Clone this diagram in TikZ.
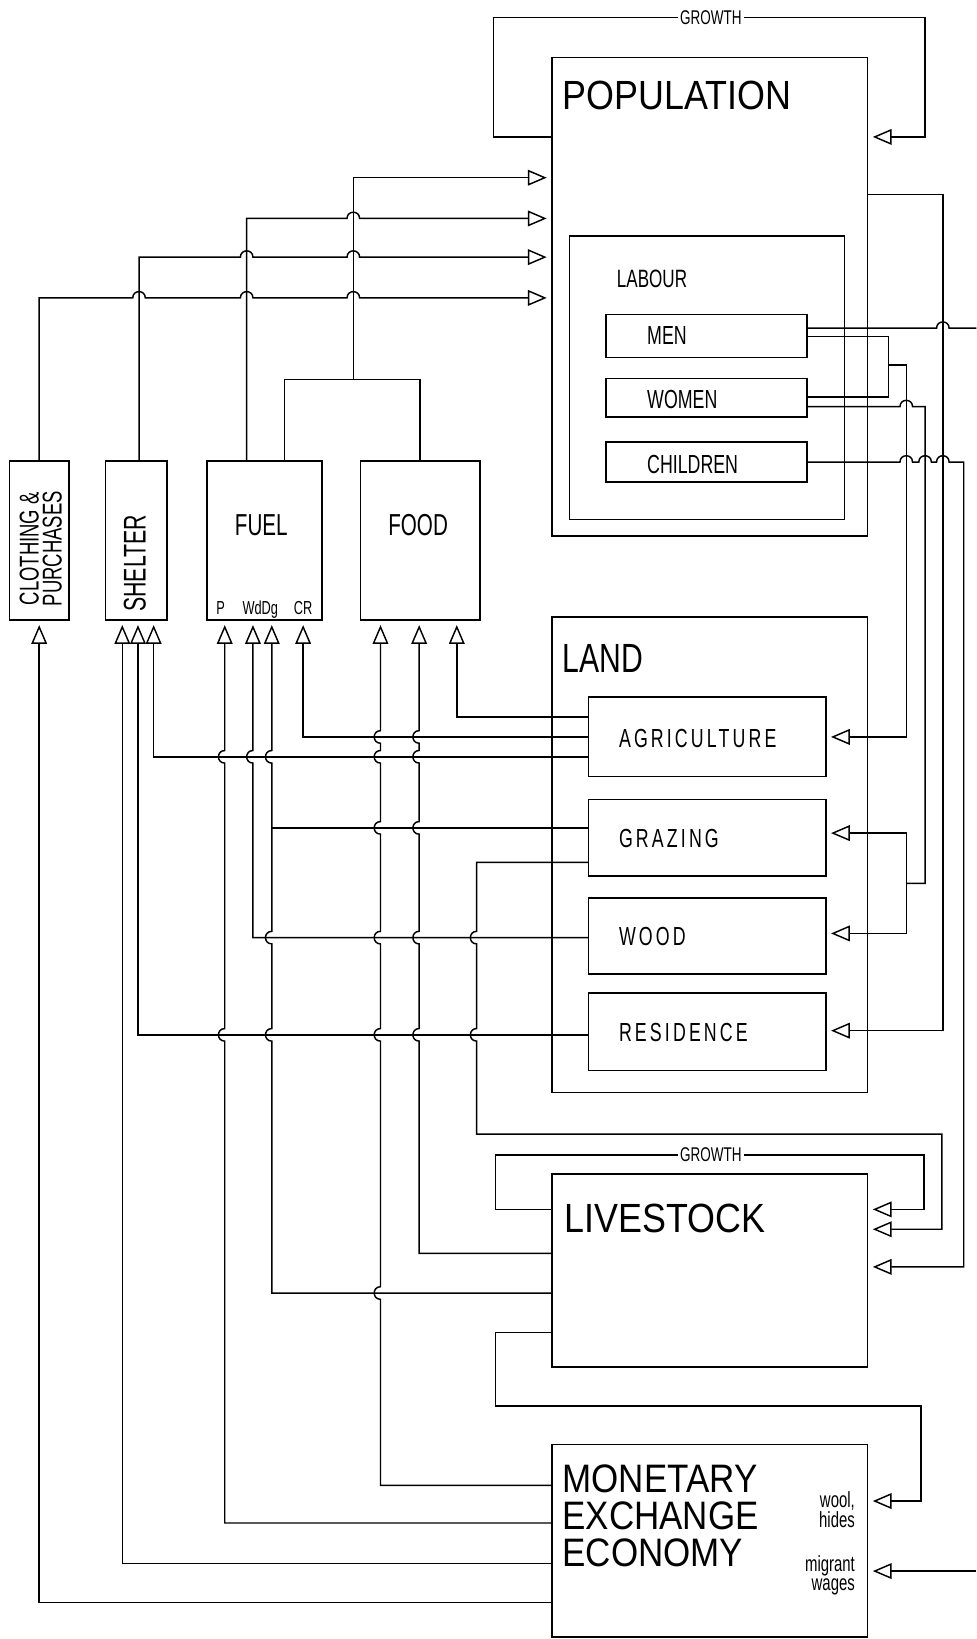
\documentclass[tikz,border=0pt]{standalone}
\usepackage{fontspec}
\setmainfont{Liberation Sans}
\newfontfamily\titlef[FakeStretch=0.88]{Liberation Sans}
\newfontfamily\titlen[FakeStretch=0.74]{Liberation Sans}
\newfontfamily\condf[FakeStretch=0.68]{Liberation Sans}
\newfontfamily\condw[FakeStretch=0.68, LetterSpace=12]{Liberation Sans}
\usetikzlibrary{arrows.meta}
% hop of a rightward horizontal line over a vertical at x=#1 (line at y=#2)
\newcommand\hopR[2]{-- (#1-6,#2) .. controls (#1-6,#2-8) and (#1+6,#2-8) .. (#1+6,#2)}
% hop of an upward vertical line (x=#1) round a horizontal at y=#2
\newcommand\hopU[2]{-- (#1,#2+6) .. controls (#1-8,#2+6) and (#1-8,#2-6) .. (#1,#2-6)}
% hop of a downward vertical line (x=#1) round a horizontal at y=#2
\newcommand\hopD[2]{-- (#1,#2-6) .. controls (#1-8,#2-6) and (#1-8,#2+6) .. (#1,#2+6)}
\tikzset{
  box/.style={draw, line width=1.5pt, inner sep=0pt, outer sep=0pt, anchor=north west},
  conn/.style={line width=1.4pt},
  arr/.style={conn, -{Triangle[open, length=18pt, width=15pt]}, shorten >=5pt},
  title/.style={font=\titlef\fontsize{39}{42}\selectfont, inner sep=0pt, anchor=base west},
  mtitle/.style={font=\titlef\fontsize{38}{38}\selectfont, inner sep=0pt, anchor=base west},
  lab/.style={font=\condf\fontsize{25}{28}\selectfont, inner sep=0pt, anchor=base west},
  wlab/.style={font=\condw\fontsize{25}{28}\selectfont, inner sep=0pt, anchor=base west},
  clab/.style={font=\condf\fontsize{29}{30}\selectfont, inner sep=0pt, anchor=base},
  small/.style={font=\condf\fontsize{18}{20}\selectfont, inner sep=0pt, anchor=base},
  growth/.style={font=\condf\fontsize{19}{20}\selectfont, fill=white, inner sep=2pt},
  note/.style={font=\condf\fontsize{21}{19}\selectfont, inner sep=0pt, align=right, anchor=east},
}
\begin{document}
\begin{tikzpicture}[x=1pt, y=-1pt]
\useasboundingbox (0,0) rectangle (934,1568);

% ---------- boxes ----------
\node[box, minimum width=302pt, minimum height=458pt] (pop) at (528,55) {};
\node[box, minimum width=263pt, minimum height=271pt] (labour) at (545,226) {};
\node[box, minimum width=192pt, minimum height=41pt] (men) at (580,301) {};
\node[box, minimum width=192pt, minimum height=37pt] (women) at (580,362) {};
\node[box, minimum width=192pt, minimum height=38pt] (children) at (580,423) {};

\node[box, minimum width=57pt, minimum height=152pt] (clothing) at (9,441) {};
\node[box, minimum width=59pt, minimum height=152pt] (shelter) at (101,441) {};
\node[box, minimum width=110pt, minimum height=152pt] (fuel) at (198,441) {};
\node[box, minimum width=114pt, minimum height=152pt] (food) at (345,441) {};

\node[box, minimum width=302pt, minimum height=455pt] (land) at (528,590) {};
\node[box, minimum width=227pt, minimum height=76pt] (agri) at (563,667) {};
\node[box, minimum width=227pt, minimum height=73pt] (grazing) at (563,765) {};
\node[box, minimum width=227pt, minimum height=73pt] (wood) at (563,859) {};
\node[box, minimum width=227pt, minimum height=74pt] (res) at (563,950) {};

\node[box, minimum width=302pt, minimum height=185pt] (livestock) at (528,1123) {};
\node[box, minimum width=302pt, minimum height=184pt] (money) at (528,1382) {};

% ---------- texts ----------
\node[title] (tpop) at (538,105) {POPULATION};
\node[lab, font=\condf\fontsize{24}{26}\selectfont] (tlab) at (590,275) {LABOUR};
\node[lab] (tmen) at (619,330) {MEN};
\node[lab] (twomen) at (619,391) {WOMEN};
\node[lab] (tchild) at (619,453) {CHILDREN};
\node[title, font=\titlen\fontsize{39}{42}\selectfont] (tland) at (538,643) {LAND};
\node[wlab] (tagri) at (592,715) {AGRICULTURE};
\node[wlab] (tgraz) at (592,811) {GRAZING};
\node[wlab] (twood) at (592,905) {WOOD};
\node[wlab] (tres) at (592,996) {RESIDENCE};
\node[title] (tlive) at (540,1179) {LIVESTOCK};
\node[mtitle] (tmon1) at (538,1428) {MONETARY};
\node[mtitle] (tmon2) at (538,1463) {EXCHANGE};
\node[mtitle] (tmon3) at (538,1499) {ECONOMY};
\node[note] (twool) at (818,1444) {wool,\\hides};
\node[note] (tmig) at (818,1507) {migrant\\wages};

\node[clab] (tfuel) at (250,512) {FUEL};
\node[clab] (tfood) at (400,512) {FOOD};
\node[rotate=90, font=\condf\fontsize{30}{30}\selectfont, inner sep=0pt] (tshel) at (129,539) {SHELTER};
\node[rotate=90, font=\condf\fontsize{26}{22}\selectfont, inner sep=0pt, align=center] (tclo) at (39,525) {CLOTHING \&\\PURCHASES};
\node[small] (tP) at (211,588) {P};
\node[small] (tWd) at (249,588) {WdDg};
\node[small] (tCR) at (290,588) {CR};

% ---------- junctions and free ends ----------
\coordinate (fj) at (338,363);
\coordinate (dgj) at (260,792);
\coordinate (mwj) at (850,349);
\coordinate (gwj) at (867,845);
\coordinate (edgeM) at (934,314);
\coordinate (edgeW) at (934,1503);

% ---------- population growth ----------
\draw[arr] (pop.west |- 0,131) -- (472,131) -- (472,17) -- (885,17) -- (885,131) -- (pop.east |- 0,131);
\node[growth] (g1) at (680,17) {GROWTH};

% ---------- needs to population ----------
\draw[conn] (food.north) -- (food.north |- fj) -- (272,363) -- (272,0 |- fuel.north);
\draw[arr] (fj) -- (338,170) -- (pop.west |- 0,170);
\draw[arr] (236,0 |- fuel.north) -- (236,209) \hopR{338}{209} -- (pop.west |- 0,209);
\draw[arr] (133,0 |- shelter.north) -- (133,246) \hopR{236}{246} \hopR{338}{246} -- (pop.west |- 0,246);
\draw[arr] (clothing.north) -- (clothing.north |- 0,285) \hopR{133}{285} \hopR{236}{285} \hopR{338}{285} -- (pop.west |- 0,285);

% ---------- land to needs ----------
\draw[arr] (agri.west |- 0,686) -- (437,686) -- (437,0 |- food.south);
\draw[arr] (agri.west |- 0,705) -- (290,705) -- (290,0 |- fuel.south);
\draw[arr] (agri.west |- 0,724) -- (147,724) -- (147,0 |- shelter.south);
\draw[arr] (wood.west |- 0,897) -- (242,897) \hopU{242}{724} -- (242,0 |- fuel.south);
\draw[conn] (grazing.west |- 0,792) -- (dgj);
\draw[arr] (livestock.west |- 0,1237) -- (260,1237) \hopU{260}{990} \hopU{260}{897} \hopU{260}{724} -- (260,0 |- fuel.south);
\draw[arr] (livestock.west |- 0,1199) -- (401,1199) \hopU{401}{990} \hopU{401}{897} \hopU{401}{792} \hopU{401}{724} \hopU{401}{705} -- (401,0 |- food.south);
\draw[arr] (money.west |- 0,1421) -- (364,1421) \hopU{364}{1237} \hopU{364}{990} \hopU{364}{897} \hopU{364}{792} \hopU{364}{724} \hopU{364}{705} -- (364,0 |- food.south);
\draw[arr] (money.west |- 0,1457) -- (215,1457) \hopU{215}{990} \hopU{215}{724} -- (215,0 |- fuel.south);
\draw[arr] (money.west |- 0,1496) -- (117,1496) -- (117,0 |- shelter.south);
\draw[arr] (money.west |- 0,1533) -- (clothing.south |- 0,1533) -- (clothing.south);
\draw[arr] (res.west |- 0,990) -- (132,990) -- (132,0 |- shelter.south);

% ---------- livestock ----------
\draw[arr] (grazing.west |- 0,825) -- (456,825) \hopD{456}{897} \hopD{456}{990} -- (456,1085) -- (901,1085) -- (901,1176) -- (livestock.east |- 0,1176);
\draw[arr] (livestock.west |- 0,1157) -- (474,1157) -- (474,1105) -- (884,1105) -- (884,1157) -- (livestock.east |- 0,1157);
\node[growth] (g2) at (680,1105) {GROWTH};
\draw[arr] (livestock.west |- 0,1275) -- (474,1275) -- (474,1345) -- (881,1345) -- (881,1436) -- (money.east |- 0,1436);
\draw[arr] (edgeW) -- (money.east |- edgeW);

% ---------- labour to land ----------
\draw[conn] (men.east |- edgeM) \hopR{902}{314} -- (edgeM);
\draw[conn] (men.east |- 0,322) -- (850,322) -- (850,380) -- (women.east |- 0,380);
\draw[arr] (mwj) -- (867,349) -- (867,705) -- (agri.east |- 0,705);
\draw[conn] (women.east |- 0,389) \hopR{867}{389} -- (885,389) -- (885,845) -- (gwj);
\draw[arr] (gwj) -- (867,797) -- (grazing.east |- 0,797);
\draw[arr] (gwj) -- (867,893) -- (wood.east |- 0,893);
\draw[arr] (children.east |- 0,442) \hopR{867}{442} \hopR{885}{442} \hopR{902}{442} -- (922,442) -- (922,1212) -- (livestock.east |- 0,1212);
\draw[arr] (pop.east |- 0,186) -- (902,186) -- (902,986) -- (res.east |- 0,986);
\end{tikzpicture}
\end{document}
